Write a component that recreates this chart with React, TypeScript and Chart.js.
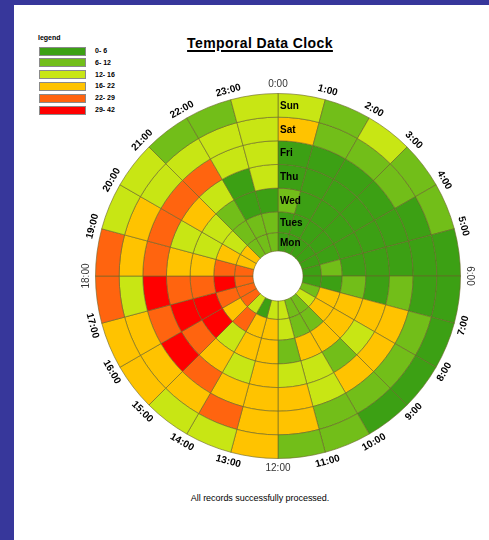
import React, { useEffect, useRef } from "react";
import { Chart, ArcElement, DoughnutController } from "chart.js";

Chart.register(ArcElement, DoughnutController);

const hourLabels = [
  "0:00", "1:00", "2:00", "3:00", "4:00", "5:00", "6:00", "7:00", "8:00", "9:00", "10:00", "11:00",
  "12:00", "13:00", "14:00", "15:00", "16:00", "17:00", "18:00", "19:00", "20:00", "21:00", "22:00", "23:00",
];

const dayNames = ["Mon", "Tues", "Wed", "Thu", "Fri", "Sat", "Sun"];

// records per hour (0:00 .. 23:00) for each weekday
const mon = [3, 2, 2, 1, 2, 3, 4, 8, 13, 9, 10, 14, 13, 5, 14, 24, 25, 23, 24, 19, 18, 9, 8, 10];
const tues = [4, 3, 2, 2, 3, 7, 5, 18, 19, 10, 11, 14, 18, 20, 24, 19, 26, 31, 25, 20, 14, 9, 8, 7];
const wed = [8, 4, 3, 2, 3, 4, 9, 20, 19, 18, 17, 10, 19, 18, 14, 32, 33, 26, 20, 15, 14, 9, 4, 5];
const thu = [5, 4, 3, 3, 2, 4, 5, 19, 15, 11, 14, 13, 20, 14, 18, 25, 34, 24, 19, 15, 20, 14, 5, 15];
const fri = [5, 4, 4, 3, 4, 5, 10, 21, 20, 19, 15, 19, 21, 20, 27, 36, 26, 38, 25, 26, 27, 24, 13, 14];
const sat = [18, 9, 10, 8, 5, 4, 5, 10, 11, 9, 10, 19, 20, 25, 21, 20, 19, 15, 21, 20, 14, 13, 15, 14];
const sun = [14, 10, 15, 9, 11, 5, 4, 3, 4, 5, 8, 9, 19, 14, 15, 20, 21, 27, 28, 14, 15, 10, 11, 15];

const dayValues = [mon, tues, wed, thu, fri, sat, sun];

// ring thickness weights, Mon (inner) .. Sun (outer)
const ringWeights = [0.78, 0.88, 1, 1, 1, 1, 1];

const binEdges = [0, 6, 12, 16, 22, 29, 42];
const binColors = ["#3ca014", "#72be19", "#c8e614", "#ffc300", "#ff640f", "#ff0000"];
const legendLabels = ["0- 6", "6- 12", "12- 16", "16- 22", "22- 29", "29- 42"];

const FONT = '"Liberation Sans", Arial, sans-serif';

function colorFor(v: number): string {
  for (let i = 0; i < binColors.length; i++) {
    if (v < binEdges[i + 1]) return binColors[i];
  }
  return binColors[binColors.length - 1];
}

const clockLabels = {
  id: "clockLabels",
  afterDatasetsDraw(chart: any) {
    const ctx = chart.ctx as CanvasRenderingContext2D;
    const arcs = chart.getDatasetMeta(0).data as any[];
    if (!arcs.length) return;
    const cx = arcs[0].x;
    const cy = arcs[0].y;
    const R = arcs[0].outerRadius;
    ctx.save();
    ctx.textAlign = "center";
    ctx.textBaseline = "middle";
    arcs.forEach((arc, h) => {
      const a = arc.startAngle;
      const r = R + 9.5;
      const x = cx + r * Math.cos(a);
      const y = cy + r * Math.sin(a);
      const deg = h * 15;
      const flip = deg > 90 && deg < 270;
      const rot = ((flip ? deg - 180 : deg) * Math.PI) / 180;
      const major = h % 6 === 0;
      ctx.font = (major ? "" : "bold ") + "10px " + FONT;
      ctx.fillStyle = major ? "#333" : "#000";
      ctx.save();
      ctx.translate(x, y);
      ctx.rotate(rot);
      ctx.fillText(hourLabels[h], 0, 0);
      ctx.restore();
    });
    ctx.textAlign = "left";
    ctx.font = "bold 10px " + FONT;
    ctx.fillStyle = "#000";
    chart.data.datasets.forEach((ds: any, i: number) => {
      const arc = chart.getDatasetMeta(i).data[0] as any;
      const mid = (arc.innerRadius + arc.outerRadius) / 2;
      ctx.fillText(ds.label, cx + 2, cy - mid + 1);
    });
    ctx.restore();
  },
};

export default function App() {
  const ref = useRef<HTMLCanvasElement>(null);

  useEffect(() => {
    const order = dayNames.map((_, i) => i).reverse(); // Sun outermost
    const datasets = order.map((i) => ({
      label: dayNames[i],
      data: hourLabels.map(() => 1),
      backgroundColor: dayValues[i].map(colorFor),
      borderColor: "rgba(105,100,40,0.6)",
      borderWidth: 1,
      weight: ringWeights[i],
    }));
    const chart = new Chart(ref.current as HTMLCanvasElement, {
      type: "doughnut",
      data: { labels: hourLabels, datasets },
      options: {
        responsive: false,
        animation: false,
        cutout: 25,
        layout: { padding: 17 },
        events: [],
        plugins: { legend: { display: false }, tooltip: { enabled: false } },
      } as any,
      plugins: [clockLabels as any],
    });
    return () => chart.destroy();
  }, []);

  return (
    <div style={{ position: "absolute", left: 0, top: 0, width: 489, height: 540, background: "#37379b", overflow: "hidden" }}>
      <div style={{ position: "absolute", left: 14, top: 5, width: 475, height: 535, background: "#ffffff" }} />
      <div
        style={{
          position: "absolute", left: 160, top: 35, width: 200, textAlign: "center",
          font: "bold 14px " + FONT, lineHeight: "16px", letterSpacing: "0.4px", color: "#000",
          textDecoration: "underline", textUnderlineOffset: "2px", textDecorationThickness: "1.5px",
        }}
      >
        Temporal Data Clock
      </div>
      <div style={{ position: "absolute", left: 38, top: 33, font: "bold 7px " + FONT, lineHeight: "9px", color: "#000" }}>legend</div>
      {legendLabels.map((lab, i) => (
        <React.Fragment key={lab}>
          <div
            style={{
              position: "absolute", left: 39, top: 46.5 + i * 11.8, width: 45, height: 7,
              background: binColors[i], border: "1px solid #8a8a8a",
            }}
          />
          <div
            style={{
              position: "absolute", left: 95, top: 46 + i * 11.8, font: "bold 7px " + FONT,
              lineHeight: "9px", color: "#000",
            }}
          >
            {lab}
          </div>
        </React.Fragment>
      ))}
      <canvas ref={ref} width={400} height={400} style={{ position: "absolute", left: 78, top: 76, width: 400, height: 400 }} />
      <div
        style={{
          position: "absolute", left: 160, top: 493, width: 200, textAlign: "center",
          font: "9px " + FONT, lineHeight: "11px", color: "#000", letterSpacing: "-0.05px",
        }}
      >
        All records successfully processed.
      </div>
    </div>
  );
}
